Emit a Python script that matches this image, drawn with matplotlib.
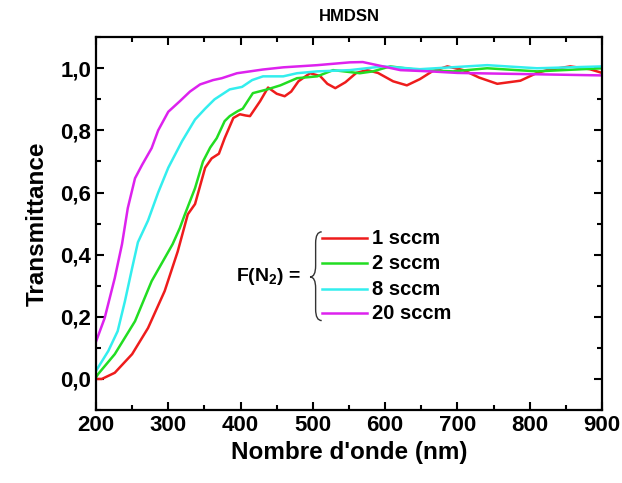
import matplotlib
matplotlib.use('Agg')
import matplotlib.pyplot as plt
from matplotlib.path import Path
from matplotlib.patches import PathPatch
from matplotlib.ticker import MultipleLocator, FuncFormatter

plt.rcParams['font.family'] = ['Liberation Sans', 'DejaVu Sans']
plt.rcParams['font.weight'] = 'bold'
plt.rcParams['mathtext.fontset'] = 'custom'
plt.rcParams['mathtext.rm'] = 'Liberation Sans:bold'
plt.rcParams['mathtext.bf'] = 'Liberation Sans:bold'

# 1 sccm
wl_1 = [200, 208, 226, 250, 272, 295, 313, 327, 337, 351, 360, 370, 378, 390, 399,
        407, 413, 427, 438, 450, 461, 470, 480, 496, 510, 520, 531, 545, 560, 575,
        590, 611, 630, 648, 665, 686, 708, 730, 755, 787, 810, 824, 856, 883, 900]
t_1 = [0.0, 0.0, 0.02, 0.08, 0.164, 0.283, 0.41, 0.53, 0.563, 0.68, 0.71, 0.725, 0.775, 0.84, 0.852,
       0.848, 0.846, 0.894, 0.938, 0.918, 0.91, 0.925, 0.958, 0.984, 0.975, 0.95, 0.936, 0.955, 0.985, 0.994,
       0.985, 0.958, 0.945, 0.965, 0.99, 1.006, 0.994, 0.97, 0.95, 0.96, 0.985, 0.994, 1.006, 0.997, 0.985]

# 2 sccm
wl_2 = [200, 203, 226, 254, 277, 306, 316, 323, 337, 348, 358, 367, 378, 385, 396,
        403, 417, 437, 455, 478, 506, 528, 565, 583, 607, 648, 694, 741, 810, 900]
t_2 = [0.005, 0.016, 0.08, 0.186, 0.315, 0.434, 0.486, 0.53, 0.614, 0.70, 0.745, 0.775, 0.83, 0.846, 0.862,
       0.87, 0.92, 0.932, 0.945, 0.968, 0.974, 0.994, 0.984, 0.99, 1.006, 0.994, 0.99, 1.0, 0.99, 1.0]

# 8 sccm
wl_8 = [200, 217, 230, 240, 250, 258, 272, 286, 300, 319, 337, 351, 364, 385, 402,
        416, 431, 459, 478, 506, 551, 597, 648, 741, 810, 900]
t_8 = [0.026, 0.09, 0.154, 0.25, 0.357, 0.44, 0.51, 0.60, 0.68, 0.765, 0.835, 0.87, 0.90, 0.932, 0.94,
       0.962, 0.974, 0.974, 0.984, 0.99, 0.994, 1.006, 0.997, 1.01, 1.0, 1.006]

# 20 sccm
wl_20 = [200, 212, 226, 236, 244, 254, 264, 277, 286, 300, 316, 330, 344, 362, 374,
         395, 413, 431, 459, 506, 551, 569, 597, 621, 662, 700, 900]
t_20 = [0.12, 0.196, 0.325, 0.434, 0.55, 0.646, 0.69, 0.743, 0.80, 0.86, 0.894, 0.925, 0.948, 0.962, 0.968,
        0.984, 0.99, 0.996, 1.003, 1.01, 1.019, 1.02, 1.006, 0.994, 0.99, 0.985, 0.977]

labels = ['1 sccm', '2 sccm', '8 sccm', '20 sccm']
colors = ['#ee1c1c', '#22dd22', '#33eeee', '#dd22ee']

fig = plt.figure(figsize=(6.22, 4.83), dpi=100)
ax = fig.add_axes([0.1543, 0.151, 0.8137, 0.772])

series = [(wl_1, t_1), (wl_2, t_2), (wl_8, t_8), (wl_20, t_20)]
for (x, y), c in zip(series, colors):
    ax.plot(x, y, color=c, lw=1.8, solid_joinstyle='round')

ax.set_xlim(200, 900)
ax.set_ylim(-0.1, 1.1)
ax.xaxis.set_major_locator(MultipleLocator(100))
ax.xaxis.set_minor_locator(MultipleLocator(50))
ax.yaxis.set_major_locator(MultipleLocator(0.2))
ax.yaxis.set_minor_locator(MultipleLocator(0.1))
ax.yaxis.set_major_formatter(FuncFormatter(lambda v, p: ('%.1f' % v).replace('.', ',')))
ax.tick_params(which='both', direction='in', top=True, right=True, width=1.5, labelsize=16)
ax.tick_params(which='major', length=6)
ax.tick_params(which='minor', length=3.5)
for s in ax.spines.values():
    s.set_linewidth(1.6)

ax.set_xlabel("Nombre d'onde (nm)", fontsize=17.5, fontweight='bold', labelpad=4)
ax.set_ylabel('Transmittance', fontsize=17.5, fontweight='bold', labelpad=8)
ax.set_title('HMDSN', fontsize=12, fontweight='bold', pad=12)

# legend with curly brace
ys = [0.461, 0.394, 0.324, 0.260]
for yy, c, lab in zip(ys, colors, labels):
    ax.plot([0.447, 0.536], [yy, yy], color=c, lw=1.8, transform=ax.transAxes)
    ax.text(0.545, yy, lab, transform=ax.transAxes, va='center', ha='left',
            fontsize=14.5, fontweight='bold')

xt, xm, xe = 0.423, 0.434, 0.446
yt, ymid, yb = 0.478, 0.357, 0.240
r = 0.03
verts = [(xe, yt), (xm, yt), (xm, yt - r), (xm, yt - r),
         (xm, ymid + r), (xm, ymid), (xt, ymid),
         (xm, ymid), (xm, ymid - r), (xm, yb + r),
         (xm, yb + r), (xm, yb), (xe, yb)]
codes = [Path.MOVETO, Path.CURVE3, Path.CURVE3, Path.LINETO,
         Path.LINETO, Path.CURVE3, Path.CURVE3,
         Path.CURVE3, Path.CURVE3, Path.LINETO,
         Path.LINETO, Path.CURVE3, Path.CURVE3]
ax.add_patch(PathPatch(Path(verts, codes), fill=False, lw=1.0, color='#333333',
                       transform=ax.transAxes))
ax.text(0.405, 0.357, r'F(N$_2$) =', transform=ax.transAxes, va='center', ha='right',
        fontsize=14, fontweight='bold')

fig.savefig('out.png', dpi=100)
